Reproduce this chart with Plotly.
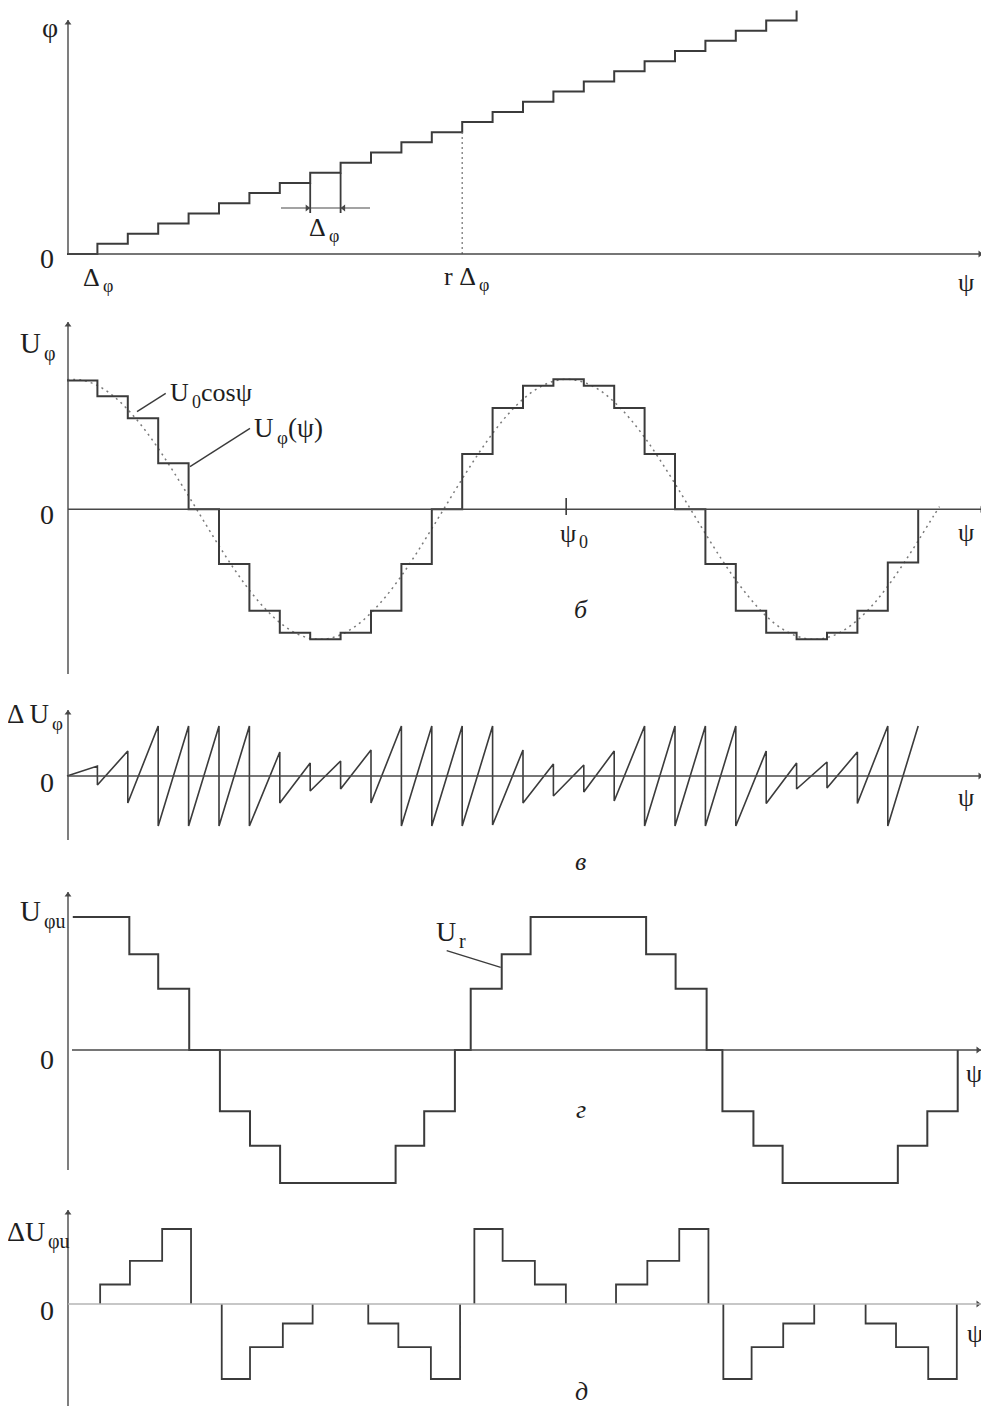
import plotly.graph_objects as go

FIG_W, FIG_H = 981, 1398
PAGE_OFFSET = 8                        # browser body margin: screen px = figure px + 8
X0_PX, STEP_PX = 67.0, 30.4            # psi origin and one quantisation step (screen pixels)
LINE = "#3b3b3b"
AXIS = "#484848"
LIGHT_AXIS = "#b4b4b4"
DOT = "#7a7a7a"
TXT = "#1e1e1e"
FONT = "Liberation Serif"

# ---------------- data (x in units of the step Δφ) ----------------
# a) staircase phi(psi)
a_step_x = [0, 1, 2, 3, 4, 5, 6, 7, 8, 9, 10, 11, 12, 13, 14, 15, 16, 17, 18, 19, 20, 21, 22, 23, 24]
a_step_level = [0, 1, 2, 3, 4, 5, 6, 7, 8, 9, 10, 11, 12, 13, 14, 15, 16, 17, 18, 19, 20, 21, 22, 23, 24]
a_delta_steps = [8, 9]
a_r_step = 13

# б) quantised U_phi(psi) and U0 cos psi
b_step_x = [0, 1, 2, 3, 4, 5, 6, 7, 8, 9, 10, 11, 12, 13, 14, 15, 16, 17, 18, 19, 20,
            21, 22, 23, 24, 25, 26, 27, 28]
b_step_level = [0.99, 0.87, 0.70, 0.355, 0, -0.42, -0.78, -0.95, -1.0, -0.95, -0.78, -0.42, 0,
                0.425, 0.78, 0.95, 1.0, 0.95, 0.78, 0.425, 0, -0.42, -0.78, -0.95, -1.0, -0.95,
                -0.78, -0.41, 0]
b_cos_u = [0, 0.5, 1, 1.5, 2, 2.5, 3, 3.5, 4, 4.5, 5, 5.5, 6, 6.5, 7, 7.5, 8, 8.5, 9, 9.5,
           10, 10.5, 11, 11.5, 12, 12.5, 13, 13.5, 14, 14.5, 15, 15.5, 16, 16.5, 17, 17.5, 18,
           18.5, 19, 19.5, 20, 20.5, 21, 21.5, 22, 22.5, 23, 23.5, 24, 24.5, 25, 25.5, 26, 26.5,
           27, 27.5, 28, 28.5, 28.7]
b_cos_val = [0.997, 0.993, 0.952, 0.876, 0.767, 0.630, 0.469, 0.290, 0.102, -0.091,
             -0.281, -0.460, -0.622, -0.760, -0.871, -0.950, -0.993, -0.998, -0.966, -0.898,
             -0.797, -0.667, -0.512, -0.337, -0.149, 0.043, 0.234, 0.416, 0.584, 0.729,
             0.847, 0.933, 0.985, 1.000, 0.977, 0.919, 0.826, 0.702, 0.553, 0.382,
             0.197, 0.005, -0.187, -0.373, -0.544, -0.694, -0.821, -0.916, -0.975, -1.000,
             -0.987, -0.938, -0.853, -0.737, -0.591, -0.424, -0.242, -0.053, 0.02]
b_psi0 = 16.42

# в) error sawtooth ΔU_phi
c_jump_u = [1, 2, 3, 4, 5, 6, 7, 8, 9, 10, 11, 12, 13, 14, 15, 16, 17, 18, 19, 20, 21, 22,
            23, 24, 25, 26, 27]
c_before = [0.2, 0.5, 1, 1, 1, 1, 0.48, 0.26, 0.3, 0.52, 1, 1, 1, 1, 0.52, 0.24, 0.22, 0.5,
            1, 1, 1, 1, 0.5, 0.26, 0.28, 0.48, 1]
c_after = [-0.18, -0.54, -1, -1, -1, -1, -0.54, -0.3, -0.26, -0.54, -1, -1, -1, -0.98, -0.54,
           -0.4, -0.32, -0.5, -1, -1, -1, -1, -0.55, -0.26, -0.24, -0.55, -1]
c_end_u = 28
c_end_val = 1.0

# г) U_phi_u with reduced number of levels
d_break_u = [0.19, 2.05, 3.00, 4.02, 5.03, 6.02, 7.01, 10.81, 11.75, 12.76, 13.28, 14.30, 15.25,
             19.05, 20.02, 21.04, 21.56, 22.58, 23.54, 27.33, 28.30, 29.30]
d_level = [1, 0.72, 0.46, 0, -0.46, -0.72, -1, -0.72, -0.46, 0, 0.46, 0.72, 1, 0.72, 0.46, 0,
           -0.46, -0.72, -1, -0.72, -0.46, 0]

# д) ΔU_phi_u
e_break_u = [0, 1.09, 2.07, 3.13, 4.08, 5.09, 6.02, 7.10, 8.08, 9.91, 10.90, 11.97, 12.93,
             13.40, 14.33, 15.39, 16.41, 18.06, 19.09, 20.14, 21.10, 21.59, 22.52, 23.56,
             24.58, 26.27, 27.27, 28.33, 29.27]
e_level = [0, 0.26, 0.575, 1, 0, -1, -0.575, -0.26, 0, -0.26, -0.575, -1, 0, 1, 0.575, 0.26,
           0, 0.26, 0.575, 1, 0, -1, -0.575, -0.26, 0, -0.26, -0.575, -1, 0]

# ---------------- panel geometry (screen pixels) ----------------
# top_px, bottom_px, zero_px, px_per_unit
PANELS = [
    (0, 300, 254.0, 10.15),
    (300, 690, 509.3, 130.0),
    (690, 880, 776.0, 50.0),
    (880, 1190, 1050.0, 133.0),
    (1190, 1414, 1304.0, 75.0),
]


def ux(px):
    return (px - X0_PX) / STEP_PX


def vy(i, py):
    top, bot, zero, s = PANELS[i]
    return (zero - py) / s


def xr(i):
    return "x" if i == 0 else f"x{i + 1}"


def yr(i):
    return "y" if i == 0 else f"y{i + 1}"


fig = go.Figure()
annotations = []
shapes = []


def trace(i, x, y, color=LINE, width=2.0, dash=None, shape="linear"):
    fig.add_trace(go.Scatter(x=x, y=y, mode="lines", xaxis=xr(i), yaxis=yr(i),
                             line=dict(color=color, width=width, dash=dash, shape=shape),
                             hoverinfo="skip", showlegend=False, cliponaxis=False))


def head(i, x, y, symbol, color=AXIS, size=7):
    fig.add_trace(go.Scatter(x=[x], y=[y], mode="markers", xaxis=xr(i), yaxis=yr(i),
                             marker=dict(symbol=symbol, size=size, color=color,
                                         line=dict(width=0)),
                             hoverinfo="skip", showlegend=False, cliponaxis=False))


def seg(i, x0, y0, x1, y1, color=AXIS, width=1.2, dash=None):
    shapes.append(dict(type="line", xref=xr(i), yref=yr(i), x0=x0, y0=y0, x1=x1, y1=y1,
                       line=dict(color=color, width=width, dash=dash)))


def text_at(i, px, py, text, size, anchor="center"):
    annotations.append(dict(x=ux(px), y=vy(i, py), xref=xr(i), yref=yr(i), text=text,
                            showarrow=False, xanchor=anchor, yanchor="middle", borderpad=0,
                            font=dict(family=FONT, size=size, color=TXT)))


def label(i, px, py, text, size=27, italic=False):
    if italic:
        text = f"<i>{text}</i>"
    text_at(i, px, py, text, size)


def label_sub(i, px, py, main, sub, tail="", size=28, sub_w=10.0):
    """main text ends at px; subscript starts at px (lowered); tail follows the subscript."""
    text_at(i, px - 0.5, py, main, size, anchor="right")
    text_at(i, px + 0.5, py + 0.36 * size, sub, round(size * 0.7), anchor="left")
    if tail:
        text_at(i, px + sub_w + 1, py, tail, size, anchor="left")


def axes(i, y_top_px, y_bot_px, x_start_px, x_end_px, color=AXIS):
    seg(i, ux(68), vy(i, y_bot_px), ux(68), vy(i, y_top_px), color=AXIS, width=1.4)
    head(i, ux(68), vy(i, y_top_px + 3), "triangle-up", size=6)
    seg(i, ux(x_start_px), 0, ux(x_end_px), 0, color=color, width=1.5)
    head(i, ux(x_end_px - 3), 0, "triangle-right", color=AXIS, size=6)


# ---------- panel a ----------
axes(0, 20, 254, 68, 983)
trace(0, a_step_x, a_step_level, shape="hv")
yb = vy(0, 208)
ylow = vy(0, 213)
k1, k2 = a_delta_steps
seg(0, k1, a_step_level[k1 - 1], k1, ylow, color=LINE, width=1.8)
seg(0, k2, a_step_level[k2 - 1], k2, ylow, color=LINE, width=1.8)
seg(0, ux(281), yb, ux(370), yb, color=AXIS, width=1.1)
head(0, k1 - 3 / STEP_PX, yb, "triangle-right", size=6)
head(0, k2 + 3 / STEP_PX, yb, "triangle-left", size=6)
trace(0, [a_r_step, a_r_step], [0, a_step_level[a_r_step - 1]], color=DOT, width=1.3, dash="2px,3px")
label(0, 50, 27, "φ", size=28)
label(0, 47, 258, "0", size=28)
label_sub(0, a_step_x[1] * STEP_PX + X0_PX + 4, 277, "Δ", "φ", size=26)
label_sub(0, (k1 + k2) / 2 * STEP_PX + X0_PX + 2, 227, "Δ", "φ", size=26)
label_sub(0, a_r_step * STEP_PX + X0_PX + 15, 276, "r Δ", "φ", size=26)
label(0, 966, 282, "ψ", size=26)
label(0, 581, 304, "а", size=26, italic=True)

# ---------- panel б ----------
axes(1, 322, 674, 68, 985)
trace(1, b_cos_u, b_cos_val, color=DOT, width=1.5, dash="2px,4px", shape="spline")
trace(1, b_step_x, b_step_level, shape="hv")
seg(1, b_psi0, vy(1, 498), b_psi0, vy(1, 515), color=LINE, width=1.6)
seg(1, ux(137), vy(1, 411.7), ux(165.7), vy(1, 393.3), color=LINE, width=1.4)
seg(1, ux(190), vy(1, 466.7), ux(250), vy(1, 428.3), color=LINE, width=1.4)
label_sub(1, 42, 343, "U", "φ", size=29)
label(1, 47, 515, "0", size=28)
label_sub(1, 190, 393, "U", "0", "cosψ", size=26, sub_w=9)
label_sub(1, 275, 428, "U", "φ", "(ψ)", size=27, sub_w=11)
label_sub(1, 577, 533, "ψ", "0", size=26)
label(1, 966, 532, "ψ", size=26)
label(1, 581, 609, "б", size=26, italic=True)

# ---------- panel в ----------
axes(2, 710, 840, 68, 983)
cx, cy = [0], [0]
for k, b, a in zip(c_jump_u, c_before, c_after):
    cx += [k, k]
    cy += [b, a]
cx.append(c_end_u)
cy.append(c_end_val)
trace(2, cx, cy, width=1.6)
label_sub(2, 50, 714, "Δ U", "φ", size=27)
label(2, 47, 783, "0", size=28)
label(2, 966, 798, "ψ", size=26)
label(2, 580, 862, "в", size=26, italic=True)

# ---------- panel г ----------
axes(3, 892, 1170, 72, 981)
trace(3, d_break_u, d_level, shape="hv")
seg(3, ux(446.7), vy(3, 950.7), ux(500.7), vy(3, 967.3), color=LINE, width=1.4)
label_sub(3, 42, 911, "U", "φu", size=29)
label(3, 47, 1059, "0", size=28)
label_sub(3, 457, 931, "U", "r", size=28)
label(3, 974, 1073, "ψ", size=26)
label(3, 581, 1109, "г", size=26, italic=True)

# ---------- panel д ----------
axes(4, 1210, 1414, 68, 981, color=LIGHT_AXIS)
ex, ey = [], []
prev = 0
for j in range(len(e_level) - 1):
    lv = e_level[j]
    x0, x1 = e_break_u[j], e_break_u[j + 1]
    if lv != 0:
        if prev == 0:
            ex.append(x0)
            ey.append(0)
        ex += [x0, x1]
        ey += [lv, lv]
        if e_level[j + 1] == 0:
            ex += [x1, None]
            ey += [0, None]
    prev = lv
trace(4, ex, ey, width=1.8)
label_sub(4, 46, 1231, "ΔU", "φu", size=28)
label(4, 47, 1310, "0", size=28)
label(4, 975, 1333, "ψ", size=26)
label(4, 581, 1391, "д", size=26, italic=True)

# ---------- layout ----------
layout = dict(width=FIG_W, height=FIG_H, margin=dict(l=0, r=0, t=0, b=0),
              paper_bgcolor="white", plot_bgcolor="white", showlegend=False,
              annotations=annotations, shapes=shapes)
for i, (top, bot, zero, s) in enumerate(PANELS):
    xk = "xaxis" if i == 0 else f"xaxis{i + 1}"
    yk = "yaxis" if i == 0 else f"yaxis{i + 1}"
    top_f = max(top - PAGE_OFFSET, 0)
    bot_f = min(bot - PAGE_OFFSET, FIG_H)
    layout[xk] = dict(domain=[0, 1], range=[ux(PAGE_OFFSET), ux(PAGE_OFFSET + FIG_W)],
                      visible=False, anchor=yr(i), fixedrange=True)
    layout[yk] = dict(domain=[1 - bot_f / FIG_H, 1 - top_f / FIG_H],
                      range=[(zero - (bot_f + PAGE_OFFSET)) / s, (zero - (top_f + PAGE_OFFSET)) / s],
                      visible=False, anchor=xr(i), fixedrange=True)
fig.update_layout(**layout)
fig.write_html("out.html")
